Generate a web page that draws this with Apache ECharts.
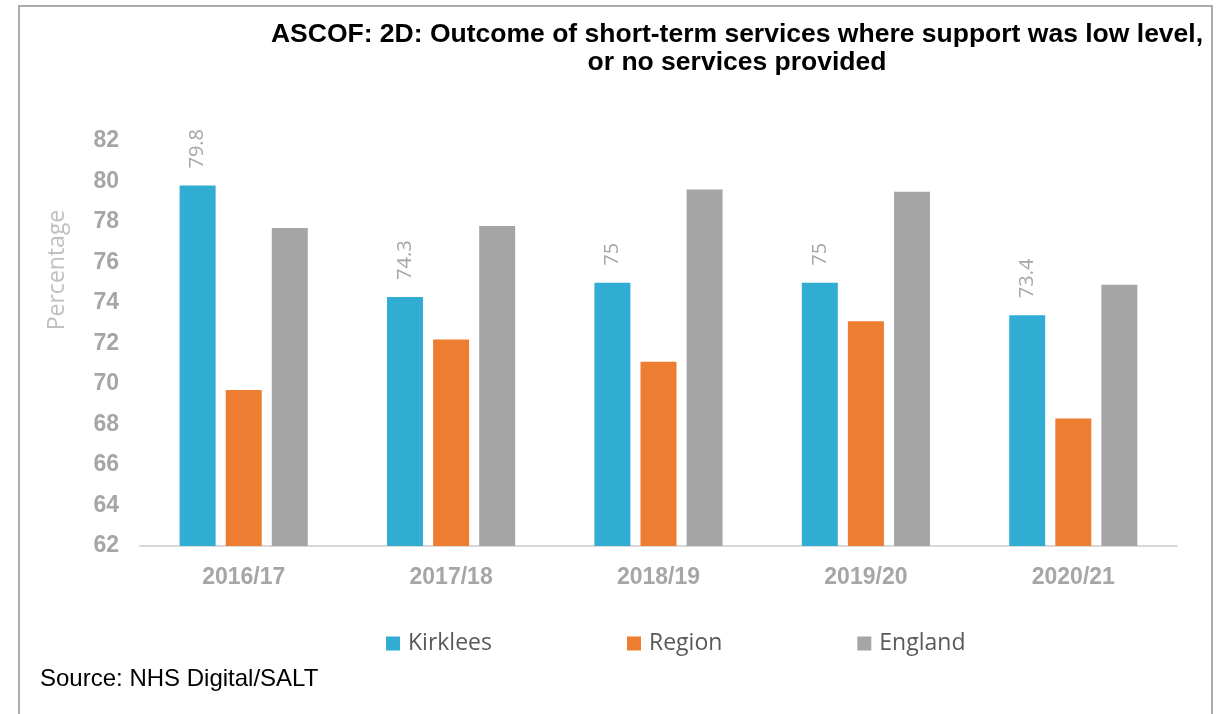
<!DOCTYPE html>
<html>
<head>
<meta charset="utf-8">
<title>ASCOF 2D</title>
<script src="https://cdn.jsdelivr.net/npm/echarts@6/dist/echarts.min.js"></script>
<style>
  html, body { margin: 0; padding: 0; background: #ffffff; }
  #chart { width: 1232px; height: 714px; }
</style>
</head>
<body>
<div id="chart"></div>
<script>
// Financial years shown on the category axis
const years = ['2016/17', '2017/18', '2018/19', '2019/20', '2020/21'];

// Percentage of people with low-level or no ongoing support after short-term services
const kirklees = [79.8, 74.3, 75, 75, 73.4];
const region = [69.7, 72.2, 71.1, 73.1, 68.3];
const england = [77.7, 77.8, 79.6, 79.5, 74.9];

// Value axis range
const yMin = 62;
const yMax = 82;
const yStep = 2;

const chart = echarts.init(document.getElementById('chart'), null, { renderer: 'canvas' });

const sansBold = 'Liberation Sans, Arial, sans-serif';
const soft = '"Open Sans", Lato, sans-serif';

chart.setOption({
  backgroundColor: '#ffffff',
  animation: false,
  title: {
    text: 'ASCOF: 2D: Outcome of short-term services where support was low level,\nor no services provided',
    left: 732,
    top: 16,
    textAlign: 'center',
    textStyle: {
      fontFamily: sansBold,
      fontWeight: 'bold',
      fontSize: 26.5,
      lineHeight: 28,
      color: '#000000'
    }
  },
  legend: {
    data: ['Kirklees', 'Region', 'England'],
    left: 381,
    top: 627,
    icon: 'rect',
    itemWidth: 14,
    itemHeight: 14,
    itemGap: 135,
    textStyle: {
      fontFamily: soft,
      fontSize: 23,
      color: '#595959',
      padding: [0, 0, 0, 3]
    }
  },
  grid: {
    left: 140,
    right: 55,
    top: 141,
    bottom: 168,
    containLabel: false
  },
  xAxis: {
    type: 'category',
    data: years,
    axisLine: { show: true, lineStyle: { color: '#D9D9D9', width: 2 } },
    axisTick: { show: false },
    axisLabel: {
      margin: 20,
      fontFamily: sansBold,
      fontWeight: 'bold',
      fontSize: 23,
      color: '#A6A6A6'
    },
    splitLine: { show: false }
  },
  yAxis: {
    type: 'value',
    min: yMin,
    max: yMax,
    interval: yStep,
    axisLine: { show: false },
    axisTick: { show: false },
    splitLine: { show: false },
    axisLabel: {
      margin: 21,
      fontFamily: sansBold,
      fontWeight: 'bold',
      fontSize: 23,
      color: '#A6A6A6'
    }
  },
  series: [
    {
      name: 'Kirklees',
      type: 'bar',
      data: kirklees,
      barWidth: 36,
      barGap: '28%',
      itemStyle: { color: '#31ACD2' },
      label: {
        show: true,
        position: 'top',
        rotate: 90,
        align: 'left',
        verticalAlign: 'middle',
        distance: 17,
        fontFamily: soft,
        fontSize: 20,
        color: '#A6A6A6'
      }
    },
    {
      name: 'Region',
      type: 'bar',
      data: region,
      barWidth: 36,
      barGap: '28%',
      itemStyle: { color: '#ED7D31' }
    },
    {
      name: 'England',
      type: 'bar',
      data: england,
      barWidth: 36,
      barGap: '28%',
      itemStyle: { color: '#A5A5A5' }
    }
  ],
  graphic: [
    {
      type: 'rect',
      silent: true,
      z: -1,
      shape: { x: 19, y: 6, width: 1193, height: 730 },
      style: { fill: null, stroke: '#ABABAB', lineWidth: 2 }
    },
    {
      type: 'text',
      x: 57,
      y: 270,
      rotation: Math.PI / 2,
      style: {
        text: 'Percentage',
        fontFamily: soft,
        fontSize: 23,
        fill: '#BFBFBF',
        textAlign: 'center',
        textVerticalAlign: 'middle'
      }
    },
    {
      type: 'text',
      x: 40,
      y: 679,
      style: {
        text: 'Source: NHS Digital/SALT',
        fontFamily: 'Liberation Sans, Arial, sans-serif',
        fontSize: 24,
        fill: '#000000',
        textAlign: 'left',
        textVerticalAlign: 'middle'
      }
    }
  ]
});
</script>
</body>
</html>
